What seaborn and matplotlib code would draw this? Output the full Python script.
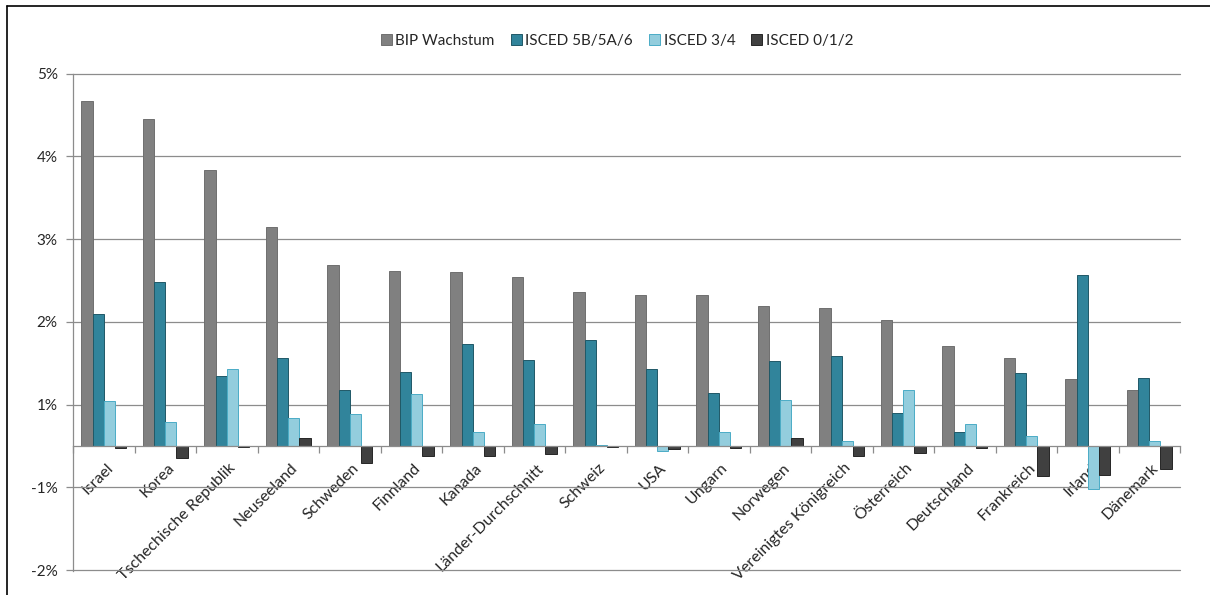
import matplotlib
matplotlib.use("Agg")
import matplotlib.pyplot as plt
from matplotlib.patches import Patch
from matplotlib.lines import Line2D
from matplotlib.ticker import FixedLocator
import matplotlib.transforms as mtrans
import seaborn as sns
import pandas as pd
import numpy as np

laender = ["Israel", "Korea", "Tschechische Republik", "Neuseeland", "Schweden",
           "Finnland", "Kanada", "Länder-Durchschnitt", "Schweiz", "USA", "Ungarn",
           "Norwegen", "Vereinigtes Königreich", "Österreich", "Deutschland",
           "Frankreich", "Irland", "Dänemark"]
serien = ["BIP Wachstum", "ISCED 5B/5A/6", "ISCED 3/4", "ISCED 0/1/2"]

bip = [4.17, 3.95, 3.33, 2.65, 2.18, 2.11, 2.10, 2.04, 1.865, 1.82, 1.82, 1.69,
       1.67, 1.52, 1.21, 1.06, 0.805, 0.67]
isced_tert = [1.59, 1.98, 0.85, 1.06, 0.68, 0.89, 1.23, 1.035, 1.285, 0.93, 0.645,
              1.02, 1.09, 0.40, 0.17, 0.88, 2.07, 0.82]
isced_sek = [0.54, 0.29, 0.93, 0.34, 0.39, 0.63, 0.165, 0.27, 0.01, -0.06, 0.17,
             0.56, 0.06, 0.68, 0.26, 0.12, -0.52, 0.06]
isced_prim = [-0.02, -0.15, -0.01, 0.09, -0.21, -0.12, -0.12, -0.10, -0.01, -0.04,
              -0.025, 0.10, -0.12, -0.08, -0.03, -0.37, -0.35, -0.28]

ytick_pos = [4.5, 3.5, 2.5, 1.5, 0.5, -0.5, -1.5]
ytick_labels = ["5%", "4%", "3%", "2%", "1%", "-1%", "-2%"]

farben = ["#808080", "#31849B", "#93CDDD", "#404040"]
kanten = ["#6f6f6f", "#205867", "#4BACC6", "#262626"]

df = pd.DataFrame({
    "Land": laender * 4,
    "Serie": np.repeat(serien, len(laender)),
    "Wert": bip + isced_tert + isced_sek + isced_prim,
})

sns.set_theme(style="white")
plt.rcParams["font.family"] = ["Lato", "DejaVu Sans"]

fig = plt.figure(figsize=(12.1, 5.95), dpi=100)
ax = fig.add_axes([73 / 1210, 1 - 571 / 595, (1180 - 73) / 1210, (571 - 73.5) / 595])

sns.barplot(data=df, x="Land", y="Wert", hue="Serie", order=laender,
            hue_order=serien, palette=farben, width=0.73, dodge=True,
            saturation=1, legend=False, ax=ax, errorbar=None)

for i, cont in enumerate(ax.containers):
    for p in cont:
        p.set_edgecolor(kanten[i])
        p.set_linewidth(0.7)

ax.set_ylim(-1.512, 4.5)
ax.set_xlim(-0.5, len(laender) - 0.5)
ax.set_axisbelow(True)

gc = "#8c8c8c"
ax.set_yticks(ytick_pos)
ax.set_yticklabels(ytick_labels)
ax.yaxis.grid(True, color=gc, linewidth=0.9)
for gl in ax.get_ygridlines():
    gl.set_clip_on(False)
ax.tick_params(axis="y", length=5, width=0.9, color=gc, pad=6, labelsize=11,
               labelcolor="#262626", direction="out", left=True)

for s in ["top", "right"]:
    ax.spines[s].set_visible(False)
ax.spines["left"].set_color(gc)
ax.spines["left"].set_linewidth(0.9)
ax.spines["bottom"].set_position(("data", 0))
ax.spines["bottom"].set_color(gc)
ax.spines["bottom"].set_linewidth(0.9)

ax.set_xlabel("")
ax.set_ylabel("")
ax.set_xticks(range(len(laender)))
ax.xaxis.set_minor_locator(FixedLocator(np.arange(-0.5, len(laender), 1.0)))
ax.tick_params(axis="x", which="major", length=0, pad=0)
ax.tick_params(axis="x", which="minor", length=5, width=0.9, color=gc,
               direction="out", bottom=True)
offset = mtrans.ScaledTranslation(2 / 100, -15 / 100, fig.dpi_scale_trans)
for lbl in ax.get_xticklabels():
    lbl.set_rotation(45)
    lbl.set_ha("right")
    lbl.set_va("top")
    lbl.set_rotation_mode("anchor")
    lbl.set_fontsize(11.5)
    lbl.set_color("#262626")
    lbl.set_transform(lbl.get_transform() + offset)

handles = [Patch(facecolor=farben[i], edgecolor=kanten[i], linewidth=0.7, label=serien[i])
           for i in range(4)]
fig.legend(handles=handles, loc="center", bbox_to_anchor=(0.51, 1 - 41 / 595),
           ncol=4, frameon=False, fontsize=11, handlelength=0.7, handleheight=0.7,
           handletextpad=0.25, columnspacing=1.05, labelcolor="#262626")

# outer frame lines (top and left)
fig.add_artist(Line2D([7 / 1210, 1], [1 - 6 / 595, 1 - 6 / 595], color="black",
                      linewidth=1.2, transform=fig.transFigure))
fig.add_artist(Line2D([7 / 1210, 7 / 1210], [0, 1 - 6 / 595], color="black",
                      linewidth=1.2, transform=fig.transFigure))

fig.savefig("out.png", dpi=100, facecolor="white")
